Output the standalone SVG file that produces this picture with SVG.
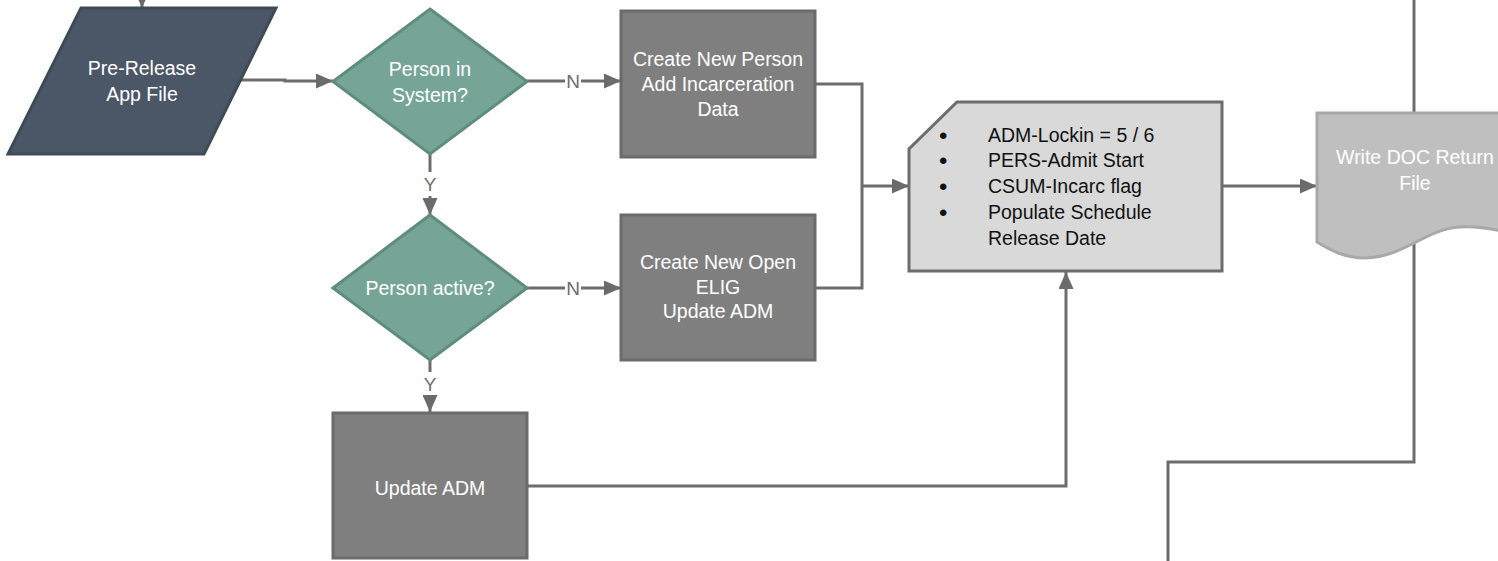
<svg xmlns="http://www.w3.org/2000/svg" width="1498" height="561" viewBox="0 0 1498 561">
<defs>
<marker id="ah" markerWidth="18" markerHeight="15" refX="17" refY="7.5" orient="auto" markerUnits="userSpaceOnUse">
<path d="M0,0 L17,7.5 L0,15 Z" fill="#6b6b6b"/>
</marker>
<style>
.lbl{font-family:"Liberation Sans",Arial,sans-serif;font-size:19.5px;fill:#ffffff;text-anchor:middle}
.blk{font-family:"Liberation Sans",Arial,sans-serif;font-size:19.5px;fill:#111111}
.bul{font-family:"Liberation Sans",Arial,sans-serif;font-size:24px;fill:#111111}
.edge{fill:none;stroke:#6d6d6d;stroke-width:3}
.yn{font-family:"Liberation Sans",Arial,sans-serif;font-size:19px;fill:#6d6d6d;text-anchor:middle}
.proc{fill:#7f7f7f;stroke:#6b6b6b;stroke-width:3}
.dec{fill:#76a598;stroke:#5e8c7f;stroke-width:3}
</style>
</defs>
<g id="connectors">
<path class="edge" d="M142,0 L142,8" marker-end="url(#ah)"/>
<path class="edge" d="M240,80 L285,80 L285,81 L333,81" marker-end="url(#ah)"/>
<path class="edge" d="M527,81 L565,81"/>
<path class="edge" d="M581,81 L621,81" marker-end="url(#ah)"/>
<path class="edge" d="M430,154 L430,172"/>
<path class="edge" d="M430,196 L430,215" marker-end="url(#ah)"/>
<path class="edge" d="M527,288 L565,288"/>
<path class="edge" d="M581,288 L621,288" marker-end="url(#ah)"/>
<path class="edge" d="M430,360 L430,372"/>
<path class="edge" d="M430,396 L430,412" marker-end="url(#ah)"/>
<path class="edge" d="M815,84 L862,84 L862,288 L815,288"/>
<path class="edge" d="M862,186 L909,186" marker-end="url(#ah)"/>
<path class="edge" d="M527,486 L1066,486 L1066,272" marker-end="url(#ah)"/>
<path class="edge" d="M1222,186 L1317,186" marker-end="url(#ah)"/>
<path class="edge" d="M1414,0 L1414,113"/>
<path class="edge" d="M1414,240 L1414,462 L1168,462 L1168,561"/>
<text class="yn" x="573" y="88">N</text>
<text class="yn" x="573" y="295">N</text>
<text class="yn" x="430" y="191">Y</text>
<text class="yn" x="430" y="391">Y</text>
</g>
<g id="n-prerelease">
<path d="M81,8 L276,8 L204,154 L8,154 Z" fill="#4b5766" stroke="#3f4a57" stroke-width="3"/>
<text class="lbl" x="142" y="75">Pre-Release</text>
<text class="lbl" x="142" y="101">App File</text>
</g>
<g id="n-insystem">
<path class="dec" d="M430,9 L527,81.5 L430,154 L333,81.5 Z"/>
<text class="lbl" x="430" y="76">Person in</text>
<text class="lbl" x="430" y="102">System?</text>
</g>
<g id="n-createperson">
<rect class="proc" x="621" y="11" width="194" height="146"/>
<text class="lbl" x="718" y="66">Create New Person</text>
<text class="lbl" x="718" y="91">Add Incarceration</text>
<text class="lbl" x="718" y="116">Data</text>
</g>
<g id="n-active">
<path class="dec" d="M430,215 L527,288 L430,360 L333,288 Z"/>
<text class="lbl" x="430" y="295">Person active?</text>
</g>
<g id="n-createopen">
<rect class="proc" x="621" y="215" width="194" height="145"/>
<text class="lbl" x="718" y="269">Create New Open</text>
<text class="lbl" x="718" y="294">ELIG</text>
<text class="lbl" x="718" y="318">Update ADM</text>
</g>
<g id="n-updateadm">
<rect class="proc" x="333" y="413" width="194" height="145"/>
<text class="lbl" x="430" y="495">Update ADM</text>
</g>
<g id="n-card">
<path d="M957,102 L1222,102 L1222,271 L909,271 L909,149 Z" fill="#d9d9d9" stroke="#6d6d6d" stroke-width="3"/>
<g class="bul">
<text x="939" y="144">•</text>
<text x="939" y="169">•</text>
<text x="939" y="195">•</text>
<text x="939" y="221">•</text>
</g>
<g class="blk">
<text x="988" y="142">ADM-Lockin = 5 / 6</text>
<text x="988" y="167">PERS-Admit Start</text>
<text x="988" y="193">CSUM-Incarc flag</text>
<text x="988" y="219">Populate Schedule</text>
<text x="988" y="245">Release Date</text>
</g>
</g>
<g id="n-writedoc">
<path d="M1317,113 L1510,113 L1510,233 C1490,228 1475,226 1460,227 C1425,229 1405,257 1365,258 C1345,258 1330,250 1317,242 Z" fill="#bfbfbf" stroke="#a8a8a8" stroke-width="3"/>
<text class="lbl" x="1415" y="164">Write DOC Return</text>
<text class="lbl" x="1415" y="190">File</text>
</g>
</svg>
